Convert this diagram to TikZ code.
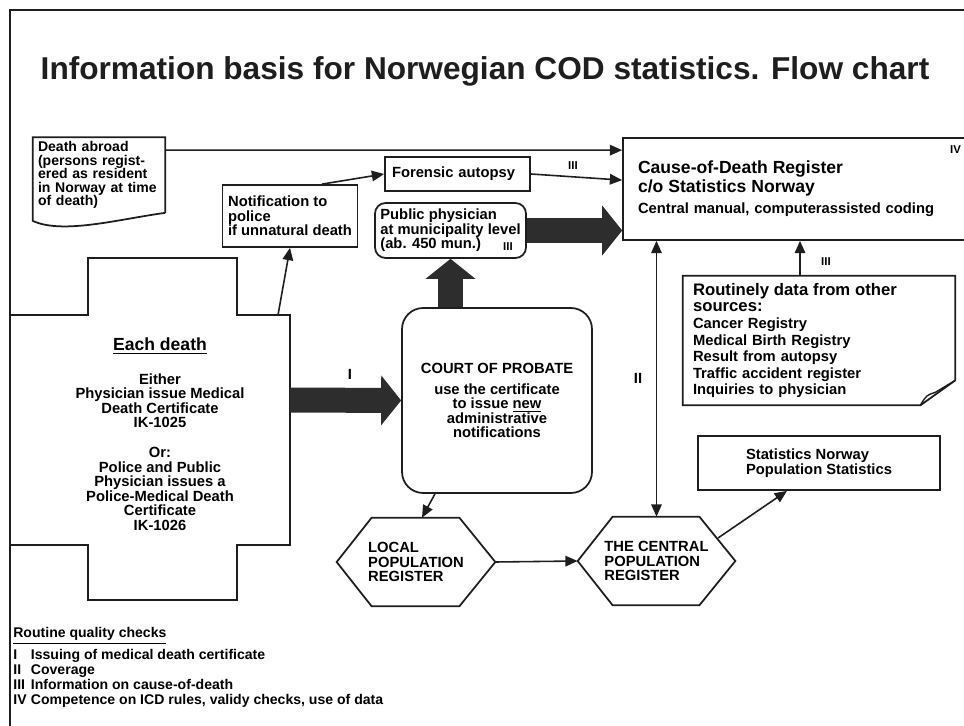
\documentclass[tikz,border=0pt]{standalone}
\usepackage{fontspec}
\setmainfont{Liberation Sans}
\usetikzlibrary{positioning,arrows.meta,calc}
\definecolor{ink}{RGB}{30,30,30}
\definecolor{fatgrey}{RGB}{45,45,45}

\newcommand\nodefont{\fontsize{8.4}{8.3}\selectfont\bfseries}
\newcommand\codfont{\fontsize{10}{9}\selectfont\bfseries}
\newcommand\romfont{\fontsize{6.5}{6.5}\selectfont\bfseries}
\newcommand\qnum[1]{\makebox[10pt][l]{#1}}

\begin{document}
\begin{tikzpicture}[x=0.02cm, y=-0.02cm,
  n/.style={draw=ink, line width=1pt, align=left, font=\nodefont, inner sep=0pt},
  bare/.style={align=left, font=\nodefont, inner sep=0pt},
  rn/.style={font=\romfont, inner sep=1pt},
  e/.style={-{Triangle[length=7pt,width=6pt]}, line width=0.9pt, draw=ink},
  ee/.style={{Triangle[length=7pt,width=6pt]}-{Triangle[length=7pt,width=6pt]}, line width=0.9pt, draw=ink},
  fat/.style={draw=fatgrey, line width=0.5cm, -{Triangle[length=0.4cm,width=1cm,line width=0pt]}}]

  \useasboundingbox (0,0) rectangle (964,726);
  % frame of the figure
  \draw[ink, line width=1.2pt] (10,726) -- (10,10) -- (964,10);
  \node[anchor=base, font=\fontsize{18}{20}\selectfont\bfseries, text=ink] (title) at (485,80)
    {Information basis for Norwegian COD statistics. Flow chart};

  % upper row
  \node[bare, font=\fontsize{8}{7.7}\selectfont\bfseries, minimum width=2.64cm, minimum height=1.5cm, text width=2.44cm] (abroad) at (99,175)
    {Death abroad\\(persons regist-\\ered as resident\\in Norway at time\\of death)};
  \draw[ink, line width=1pt] (abroad.south east) -- (abroad.north east) -- (abroad.north west)
    -- ($(abroad.south west)+(0,8)$) .. controls +(30,14) and +(-45,6) .. (abroad.south east);
  \node[n, minimum width=2.7cm, minimum height=1.24cm] (police) at (290,216) {Notification to\\police\\if unnatural death};
  \node[n, minimum width=2.9cm, minimum height=0.68cm, text width=2.62cm] (forensic) at (457.5,174) {Forensic autopsy};
  \node[n, rounded corners=6pt, minimum width=3.02cm, minimum height=1.1cm] (phys) at (450.5,230.5)
    {Public physician\\at municipality level\\(ab. 450 mun.)};
  \node[rn] (r3b) at (508,247) {III};
  \node[n, minimum width=7.04cm, minimum height=2.04cm, text width=6.44cm] (cod) at (799,189)
    {\codfont Cause-of-Death Register\\c/o Statistics Norway\\[4pt]\nodefont Central manual, computerassisted coding};
  \node[rn, anchor=west] (r4) at (948,150) {IV};

  % routinely data, folded corner
  \node[bare, font=\fontsize{8.4}{9.4}\selectfont\bfseries, minimum width=5.44cm, minimum height=2.58cm, text width=5.04cm] (routine) at (819,340.5)
    {{\fontsize{9.5}{9.4}\selectfont Routinely data from other}\\{\fontsize{9.5}{9.4}\selectfont sources:}\\Cancer Registry\\Medical Birth Registry\\Result from autopsy\\Traffic accident register\\Inquiries to physician};
  \draw[ink, line width=1pt] (routine.south west) -- (routine.north west) -- (routine.north east)
    -- ($(routine.south east)+(0,-25)$) -- ($(routine.south east)+(-35,0)$) -- cycle;
  \draw[ink, line width=0.8pt] ($(routine.south east)+(-35,0)$) .. controls +(6,-10) .. ($(routine.south east)+(-20,-13)$) -- ($(routine.south east)+(0,-25)$);

  % each death (cross)
  \draw[ink, line width=1.2pt] (88,258) -- (237,258) -- (237,315) -- (290,315) -- (290,545) -- (237,545)
    -- (237,600) -- (88,600) -- (88,545) -- (10,545) -- (10,315) -- (88,315) -- cycle;
  \node[bare, align=center] (death) at (160,434)
    {{\fontsize{10}{10}\selectfont\underline{Each death}}\\[11pt]
     Either\\Physician issue Medical\\Death Certificate\\IK-1025\\[8.5pt]
     Or:\\Police and Public\\Physician issues a\\Police-Medical Death\\Certificate\\IK-1026};
  \coordinate (crossE) at (290,400);
  \coordinate (crossN) at (278,315);

  \node[n, align=center, rounded corners=12pt, minimum width=3.8cm, minimum height=3.7cm] (court) at (497,400.5)
    {COURT OF PROBATE\\[3.6pt]use the certificate\\to issue \underline{new}\\administrative\\notifications};

  % population registers
  \node[bare, minimum width=3.16cm, minimum height=1.76cm] (local) at (416,562) {LOCAL\\POPULATION\\REGISTER};
  \node[bare, minimum width=3.14cm, minimum height=1.76cm] (central) at (656.5,561) {THE CENTRAL\\POPULATION\\REGISTER};
  \foreach \h in {local,central}
    \draw[ink, line width=1pt] (\h.west) -- ($(\h.north west)+(35,0)$) -- ($(\h.north east)+(-36,0)$) -- (\h.east)
      -- ($(\h.south east)+(-36,0)$) -- ($(\h.south west)+(35,0)$) -- cycle;
  \node[n, minimum width=4.84cm, minimum height=1.08cm] (stats) at (819,463) {Statistics Norway\\Population Statistics};
  \coordinate (cenNE) at (718,538);

  % connectors
  \draw[e] ($(abroad.north east)+(0,13)$) -- ($(cod.north west)+(0,13)$);
  \draw[e] (forensic.east) -- ($(cod.north west)+(0,43)$);
  \node[rn] (r3a) at (573,166) {III};
  \draw[e] ($(police.north)+(32,0)$) -- (forensic.west);
  \draw[e] (crossN) -- (police.south);
  \draw[fat] (crossE) -- (court.west);
  \node[font=\nodefont] (r1) at (350,374) {I};
  \draw[fat] (phys.south |- court.north) -- (phys.south);
  \draw[fat] (phys.east) -- (phys.east -| cod.west);
  \draw[e] ($(routine.north)+(-19,0)$) coordinate (rt) -- (rt |- cod.south);
  \node[rn] (r3c) at (826,262) {III};
  \draw[e] ($(court.south)+(-62,0)$) -- ($(local.north)+(6,0)$);
  \draw[e] (local.east) -- (central.west);
  \draw[ee] (central.north) -- (central.north |- cod.south);
  \node[font=\nodefont] (r2) at (638,378) {II};
  \draw[e] (cenNE) -- ($(stats.south)+(-32,0)$);

  % legend
  \node[bare, anchor=north west, font=\fontsize{8}{8.5}\selectfont\bfseries] (legend) at (13,627)
    {\underline{Routine quality checks}\\[2pt]
     \qnum{I}Issuing of medical death certificate\\
     \qnum{II}Coverage\\
     \qnum{III}Information on cause-of-death\\
     \qnum{IV}Competence on ICD rules, validy checks, use of data};
\end{tikzpicture}
\end{document}
